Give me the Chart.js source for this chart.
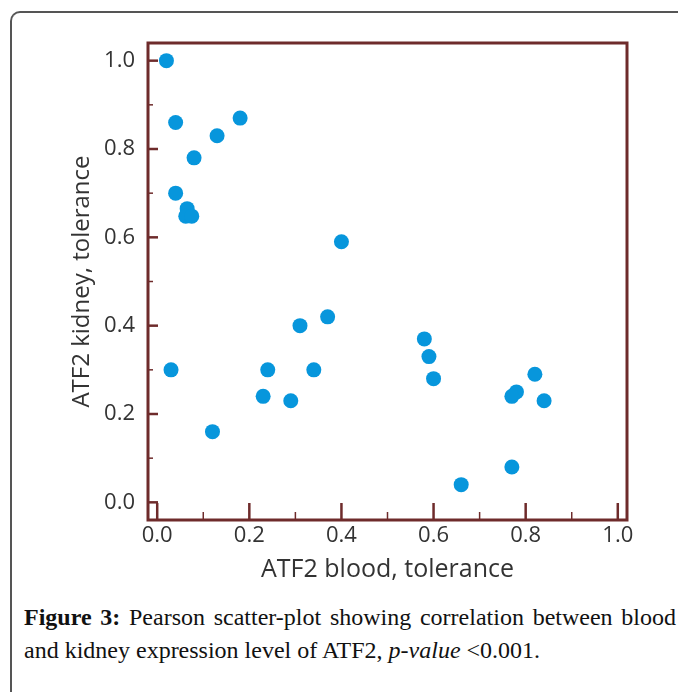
<!DOCTYPE html>
<html>
<head>
<meta charset="utf-8">
<script src="https://cdn.jsdelivr.net/npm/chart.js@4"></script>
<style>
  html, body { margin: 0; padding: 0; background: #fff; }
  body { width: 678px; height: 692px; position: relative; overflow: hidden; }
  #frame {
    position: absolute; left: 10px; top: 11px; width: 700px; height: 720px;
    border-left: 2px solid #555; border-top: 2px solid #555;
    border-top-left-radius: 10px;
  }
  #chartCanvas { position: absolute; left: 0; top: 0; }
  #caption {
    position: absolute; left: 24px; top: 601px; width: 652px;
    font-family: "Liberation Serif", serif; font-size: 24px; line-height: 33px; color: #111;
  }
  #caption .l1 { text-align: justify; text-align-last: justify; white-space: nowrap; }
</style>
</head>
<body>
<div id="frame"></div>
<canvas id="chartCanvas" width="678" height="600"></canvas>
<div id="caption">
  <div class="l1"><b>Figure 3:</b> Pearson scatter-plot showing correlation between blood</div>
  <div>and kidney expression level of ATF2, <i>p-value</i> &lt;0.001.</div>
</div>
<script>
// values
const bloodTolerance = [0.02, 0.04, 0.13, 0.18, 0.08, 0.04, 0.065, 0.062, 0.075, 0.40,
  0.03, 0.12, 0.23, 0.24, 0.29, 0.31, 0.34, 0.37,
  0.58, 0.59, 0.60, 0.82, 0.78, 0.77, 0.84, 0.77, 0.66];
const kidneyTolerance = [1.00, 0.86, 0.83, 0.87, 0.78, 0.70, 0.665, 0.648, 0.648, 0.59,
  0.30, 0.16, 0.24, 0.30, 0.23, 0.40, 0.30, 0.42,
  0.37, 0.33, 0.28, 0.29, 0.25, 0.24, 0.23, 0.08, 0.04];
const majorTicks = [0, 0.2, 0.4, 0.6, 0.8, 1.0];
const minorTicks = [0.1, 0.3, 0.5, 0.7, 0.9];

const axisColor = "#6e2b2b";
const textColor = "#333";

// box + inward tick marks
const innerTicks = {
  id: "innerTicks",
  beforeDatasetsDraw(chart) {
    const { ctx, chartArea: a, scales } = chart;
    ctx.save();
    ctx.strokeStyle = axisColor;
    const mark = (len, w, vals) => {
      ctx.lineWidth = w;
      vals.forEach(v => {
        const x = scales.x.getPixelForValue(v);
        ctx.beginPath(); ctx.moveTo(x, a.bottom); ctx.lineTo(x, a.bottom - len.x); ctx.stroke();
        const y = scales.y.getPixelForValue(v);
        ctx.beginPath(); ctx.moveTo(a.left, y); ctx.lineTo(a.left + len.y, y); ctx.stroke();
      });
    };
    mark({ x: 17, y: 10 }, 2.5, majorTicks);
    mark({ x: 8, y: 5 }, 1.5, minorTicks);
    ctx.lineWidth = 3;
    ctx.strokeRect(a.left, a.top, a.right - a.left, a.bottom - a.top);
    ctx.restore();
  }
};

const points = bloodTolerance.map((x, i) => ({ x, y: kidneyTolerance[i] }));

new Chart(document.getElementById("chartCanvas").getContext("2d"), {
  type: "scatter",
  data: {
    datasets: [{
      data: points,
      backgroundColor: "#0796dc",
      borderWidth: 0,
      pointRadius: 7.5,
      pointHoverRadius: 7.5
    }]
  },
  options: {
    responsive: false,
    animation: false,
    events: [],
    layout: { padding: { top: 43, right: 51, left: 0, bottom: 0 } },
    plugins: { legend: { display: false }, tooltip: { enabled: false } },
    scales: {
      x: {
        type: "linear", min: -0.02, max: 1.02,
        afterBuildTicks: s => { s.ticks = majorTicks.map(v => ({ value: v })); },
        afterFit: s => { s.height = 80; },
        grid: { display: false, drawTicks: false },
        border: { display: false },
        ticks: {
          padding: 3, color: textColor,
          font: { family: "Open Sans", size: 22 },
          callback: v => v.toFixed(1)
        },
        title: {
          display: true, text: "ATF2 blood, tolerance", color: textColor,
          font: { family: "Open Sans", size: 25 },
          padding: { top: 0, bottom: 15 }
        }
      },
      y: {
        type: "linear", min: -0.04, max: 1.04,
        afterBuildTicks: s => { s.ticks = majorTicks.map(v => ({ value: v })); },
        afterFit: s => { s.width = 148; },
        grid: { display: false, drawTicks: false },
        border: { display: false },
        ticks: {
          padding: 13, color: textColor,
          font: { family: "Open Sans", size: 22 },
          callback: v => v.toFixed(1)
        },
        title: {
          display: true, text: "ATF2 kidney, tolerance", color: textColor,
          font: { family: "Open Sans", size: 24 },
          padding: { top: 68, bottom: 0 }
        }
      }
    }
  },
  plugins: [innerTicks]
});
</script>
</body>
</html>
